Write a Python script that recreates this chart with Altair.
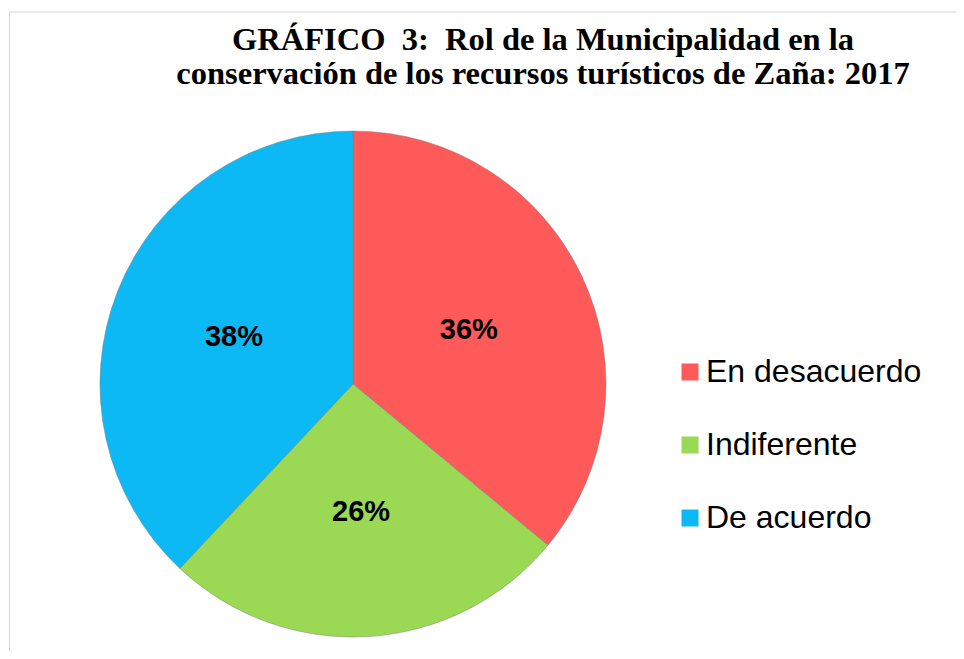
import altair as alt
import pandas as pd

categories = ["En desacuerdo", "Indiferente", "De acuerdo"]
values = [36, 26, 38]
labels = ["36%", "26%", "38%"]
colors = ["#FF5A5A", "#9BD955", "#0DB9F5"]

df = pd.DataFrame({
    "cat": categories,
    "val": values,
    "lab": labels,
    "ord": list(range(len(categories))),
})

CX, CY, R = 345, 376, 253

base = alt.Chart(df).encode(
    theta=alt.Theta("val:Q", stack=True),
    order=alt.Order("ord:Q"),
)

pie = base.mark_arc(outerRadius=R, stroke="#7a7a7a", strokeWidth=0.8, strokeOpacity=0.6).encode(
    x=alt.value(CX),
    y=alt.value(CY),
    color=alt.Color(
        "cat:N",
        sort=categories,
        scale=alt.Scale(domain=categories, range=colors),
        legend=alt.Legend(
            title=None,
            orient="none",
            legendX=666,
            legendY=348,
            symbolType="square",
            symbolSize=289,
            symbolStrokeWidth=0,
            labelFontSize=32,
            labelFont="Liberation Sans",
            labelColor="#000000",
            labelOffset=0,
            rowPadding=41,
            padding=0,
            labelLimit=400,
        ),
    ),
)

text = base.mark_text(
    radius=128, font="Liberation Sans", fontSize=29, fontWeight="bold", color="#000000"
).encode(
    x=alt.value(CX),
    y=alt.value(CY),
    text="lab:N",
)

frame_df = pd.DataFrame({"k": [0]})
left_rule = alt.Chart(frame_df).mark_rule(color="#d4d4d4", strokeWidth=1).encode(
    x=alt.value(1.5), y=alt.value(4), y2=alt.value(643)
)
top_rule = alt.Chart(frame_df).mark_rule(color="#d4d4d4", strokeWidth=1).encode(
    x=alt.value(1.5), x2=alt.value(948), y=alt.value(4)
)

chart = alt.layer(left_rule, top_rule, pie, text).properties(
    width=948,
    height=643,
    padding=0,
    autosize=alt.AutoSizeParams(type="none"),
    title=alt.TitleParams(
        text=["GRÁFICO\u00a0 3:\u00a0 Rol de la Municipalidad en la",
              "conservación de los recursos turísticos de Zaña: 2017"],
        font="Liberation Serif",
        fontSize=32.5,
        fontWeight="bold",
        color="#000000",
        anchor="middle",
        frame="group",
        baseline="alphabetic",
        lineHeight=34,
        dx=61,
        dy=112,
        offset=4,
    ),
).configure_view(stroke=None)

chart.save("out.html", embed_options={"renderer": "svg", "actions": False})
